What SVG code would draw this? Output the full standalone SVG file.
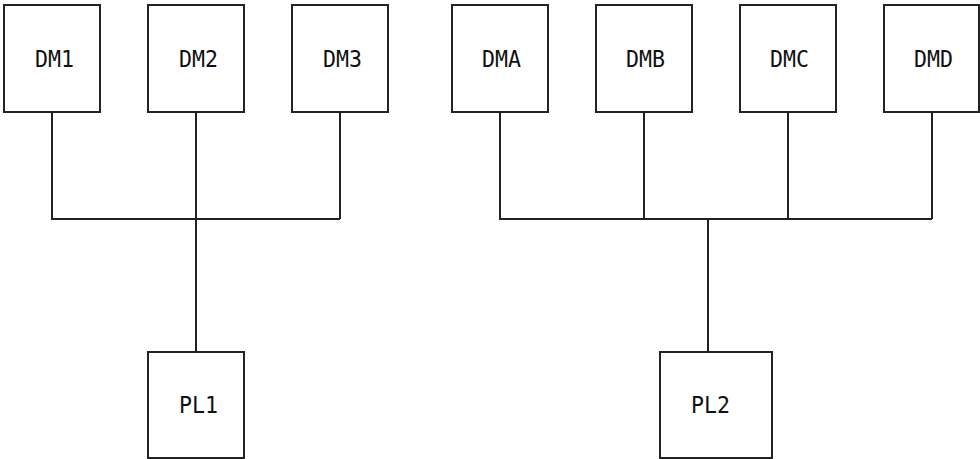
<svg xmlns="http://www.w3.org/2000/svg" width="980" height="459" viewBox="0 0 980 459">
<style>
.box{fill:#fff;stroke:#222;stroke-width:2}
.lbl{font-family:"DejaVu Sans Mono",monospace;font-size:23px;fill:#111}
.conn{stroke:#222;stroke-width:2;fill:none}
</style>
<rect width="980" height="459" fill="#fff"/>
<g id="connectors">
<path class="conn" d="M52,112V219H340M196,112V352M340,112V219"/>
<path class="conn" d="M500,112V219H932M644,112V219M788,112V219M932,112V219M708,219V352"/>
</g>
<g id="DM1"><rect class="box" x="4" y="5" width="96" height="107"/><text class="lbl" x="35" y="67" textLength="39" lengthAdjust="spacingAndGlyphs">DM1</text></g>
<g id="DM2"><rect class="box" x="148" y="5" width="96" height="107"/><text class="lbl" x="179" y="67" textLength="39" lengthAdjust="spacingAndGlyphs">DM2</text></g>
<g id="DM3"><rect class="box" x="292" y="5" width="96" height="107"/><text class="lbl" x="323" y="67" textLength="39" lengthAdjust="spacingAndGlyphs">DM3</text></g>
<g id="DMA"><rect class="box" x="452" y="5" width="96" height="107"/><text class="lbl" x="482" y="67" textLength="39" lengthAdjust="spacingAndGlyphs">DMA</text></g>
<g id="DMB"><rect class="box" x="596" y="5" width="96" height="107"/><text class="lbl" x="626" y="67" textLength="39" lengthAdjust="spacingAndGlyphs">DMB</text></g>
<g id="DMC"><rect class="box" x="740" y="5" width="96" height="107"/><text class="lbl" x="770" y="67" textLength="39" lengthAdjust="spacingAndGlyphs">DMC</text></g>
<g id="DMD"><rect class="box" x="884" y="5" width="95" height="107"/><text class="lbl" x="914" y="67" textLength="39" lengthAdjust="spacingAndGlyphs">DMD</text></g>
<g id="PL1"><rect class="box" x="148" y="352" width="96" height="106"/><text class="lbl" x="179" y="413" textLength="39" lengthAdjust="spacingAndGlyphs">PL1</text></g>
<g id="PL2"><rect class="box" x="660" y="352" width="112" height="106"/><text class="lbl" x="691" y="413" textLength="39" lengthAdjust="spacingAndGlyphs">PL2</text></g>
</svg>
